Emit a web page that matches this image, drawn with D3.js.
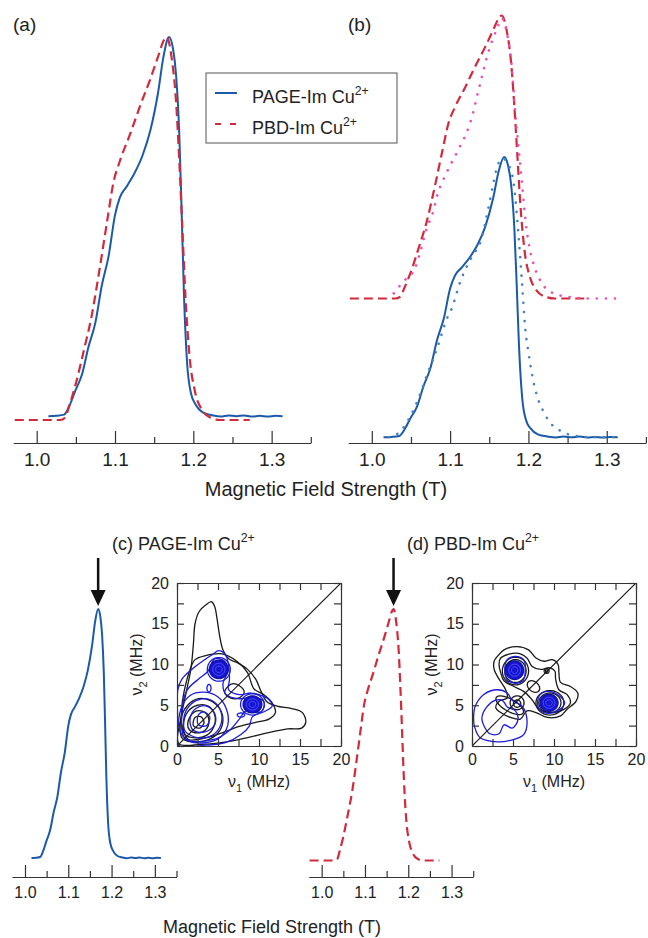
<!DOCTYPE html>
<html>
<head>
<meta charset="utf-8">
<script src="https://cdn.jsdelivr.net/npm/d3@7"></script>
<style>
  body { margin: 0; background: #fff; }
  svg { display: block; }
  text { font-family: "Liberation Sans", Arial, Helvetica, sans-serif; fill: #222; }
</style>
</head>
<body>
<svg id="fig" width="648" height="938"></svg>
<script>
// ---- field-swept echo spectra (normalised intensity) ----
const pageField = [1.015,1.025,1.035,1.042,1.049,1.058,1.066,1.075,1.083,1.092,1.100,1.106,1.115,1.125,1.135,1.145,1.155,1.162,1.169,1.174,1.178,1.182,1.185,1.188,1.192,1.197,1.203,1.212,1.225,1.235,1.245,1.255,1.265,1.275,1.285,1.295,1.305,1.314];
const pageIm = [0.010,0.011,0.014,0.038,0.075,0.12,0.19,0.255,0.35,0.43,0.535,0.58,0.61,0.645,0.69,0.755,0.855,0.95,1.0,0.97,0.90,0.75,0.55,0.33,0.15,0.07,0.04,0.02,0.012,0.009,0.012,0.010,0.012,0.009,0.011,0.009,0.011,0.010];

const pbdField = [0.972,1.000,1.030,1.036,1.042,1.050,1.060,1.070,1.080,1.090,1.098,1.106,1.119,1.132,1.145,1.156,1.162,1.166,1.172,1.178,1.182,1.186,1.190,1.195,1.202,1.210,1.222,1.234,1.272];
const pbdIm = [0,0,0,0.006,0.04,0.095,0.18,0.27,0.39,0.52,0.62,0.675,0.745,0.82,0.89,0.955,0.99,1.0,0.95,0.83,0.68,0.50,0.32,0.17,0.075,0.03,0.006,0,0];

// simulations shown dotted in (b)
const pageFitField = [1.022,1.028,1.038,1.049,1.060,1.070,1.083,1.096,1.102,1.113,1.128,1.139,1.149,1.156,1.160,1.167,1.174,1.181,1.188,1.192,1.196,1.200,1.205,1.211,1.218,1.230,1.243,1.258,1.283,1.314];
const pageFit = [0.01,0.014,0.036,0.083,0.15,0.226,0.321,0.429,0.464,0.56,0.649,0.702,0.821,0.917,0.964,0.995,0.975,0.910,0.702,0.548,0.393,0.31,0.226,0.155,0.107,0.054,0.030,0.015,0.01,0.01];
const pbdFitField = [1.028,1.040,1.055,1.062,1.070,1.077,1.085,1.094,1.100,1.109,1.126,1.139,1.149,1.160,1.166,1.173,1.179,1.183,1.188,1.192,1.196,1.200,1.207,1.216,1.228,1.250,1.280,1.312];
const pbdFit = [0.018,0.059,0.106,0.165,0.247,0.295,0.377,0.436,0.47,0.518,0.624,0.766,0.872,0.954,0.99,0.931,0.813,0.66,0.518,0.401,0.283,0.2,0.118,0.059,0.024,0.006,0,0];
const pbdOffset = 0.5;

const fieldTicks = [1.0, 1.1, 1.2, 1.3];
const fieldMinor = [1.05, 1.15, 1.25, 1.35];
const nuTicks = [0, 2.5, 5, 7.5, 10, 12.5, 15, 17.5, 20];

// ---- HYSCORE contours, (nu1, nu2) in MHz ----
const pageBlackLoops = [
  [[0.2,0.3],[3,0.2],[6,0.5],[8.5,1.0],[11,1.6],[13.5,2.1],[15.2,2.2],[15.7,2.9],[15.3,4.1],[14,4.6],[12.2,4.9],[11,5.4],[10.3,6.6],[9.6,8.2],[8.6,9.4],[7.4,10.2],[6.3,10.7],[5.6,11.8],[5.2,13.5],[4.9,15.5],[4.6,17.1],[4.2,17.7],[3.5,17.3],[2.7,16.5],[2.2,15.0],[2.0,12.5],[1.7,9.5],[1.1,6.5],[0.5,3.5]],
  [[2.2,10.6],[3.5,11.1],[5.5,11.3],[7.3,10.4],[8.6,9.0],[9.4,7.0],[10.6,6.3],[11.6,5.3],[12.0,4.1],[11.2,3.3],[9.6,2.9],[7.6,2.4],[5.5,1.6],[3.5,1.0],[1.4,0.8],[0.6,2.4],[0.6,4.9],[1.0,7.3],[1.6,9.4]],
  [[5.8,6.6],[6.6,7.6],[7.6,7.4],[8.2,6.6],[7.6,5.9],[6.5,5.9]],
  [[0.6,1.0],[1.8,0.5],[3.6,0.7],[5.0,1.6],[5.6,3.0],[5.2,4.6],[4.0,5.6],[2.6,5.8],[1.3,5.0],[0.5,3.4]],
  [[1.0,1.4],[2.2,1.0],[3.6,1.3],[4.5,2.4],[4.6,3.8],[3.8,4.9],[2.5,5.0],[1.4,4.3],[0.8,2.8]],
  [[1.5,2.0],[2.5,1.6],[3.5,2.0],[3.9,3.1],[3.4,4.1],[2.4,4.3],[1.6,3.6],[1.3,2.7]],
  [[2.0,2.5],[2.8,2.2],[3.3,2.9],[2.9,3.6],[2.2,3.5]]
];
const pageBlueLoops = [
  [[0.2,0.1],[3.5,0.1],[5.9,0.4],[7.8,1.4],[8.8,2.4],[9.2,3.6],[10.8,4.3],[11.6,4.9],[11.2,5.7],[10.0,6.3],[9.0,6.5],[7.6,6.3],[6.3,6.9],[6.4,8.2],[6.3,9.8],[5.9,11.2],[5.1,11.7],[4.3,11.2],[3.1,10.4],[1.8,9.4],[0.6,8.2],[0.1,6.9],[0.1,3.0]],
  [[1.0,0.9],[4.5,0.8],[6.5,2.0],[7.6,3.3],[8.4,4.3],[10.3,4.2],[10.6,5.4],[9.3,6.0],[7.6,5.8],[6.0,6.3],[5.6,7.6],[6.1,9.0],[5.8,10.4],[4.6,10.7],[3.8,9.2],[2.6,8.2],[1.2,6.8],[0.6,4.0]],
  [[0.3,2.0],[1.5,0.6],[3.5,0.4],[5.2,1.0],[6.2,2.6],[6.0,4.6],[5.0,6.0],[3.4,6.6],[1.6,6.2],[0.5,4.6]],
  [[1.0,1.8],[2.6,1.0],[4.3,1.3],[5.4,2.8],[5.2,4.6],[4.0,5.7],[2.4,5.6],[1.2,4.5],[0.8,3.0]],
  [[1.9,2.0],[3.3,1.7],[4.6,2.6],[4.6,4.0],[3.6,4.9],[2.3,4.6],[1.6,3.4]],
  [[2.6,2.6],[3.6,2.5],[4.0,3.5],[3.3,4.2],[2.6,3.8]]
];
// [cx, cy, rx, ry, rotation deg]
const pageBlueRings = [
  [3.9,7.1,0.25,0.45,0],[7.8,3.8,0.45,0.25,0],
  [5.1,9.4,1.4,1.45,0],[9.2,5.1,1.45,1.3,0]
];
const pagePeaks = [[5.1,9.4,1.15,1.15,0],[9.2,5.1,1.15,1.05,0]];

const pbdBlackLoops = [
  [[3.1,11.0],[3.9,11.8],[5.5,12.2],[6.9,11.8],[7.8,10.8],[8.8,10.4],[9.8,10.6],[10.5,10.0],[10.6,9.0],[10.8,7.8],[12.0,7.3],[12.9,6.5],[12.7,5.5],[11.6,4.5],[10.8,3.7],[9.2,3.5],[7.8,4.1],[6.7,4.3],[5.9,3.3],[4.7,3.5],[3.5,4.1],[2.9,4.7],[3.3,5.5],[4.3,5.9],[4.1,6.9],[3.3,8.2],[2.7,9.4],[2.7,10.4]],
  [[3.5,10.8],[5.5,11.4],[6.7,10.8],[7.3,9.8],[8.4,9.4],[9.4,9.6],[10.1,9.2],[10.2,8.2],[10.6,6.9],[11.6,6.3],[12.0,5.3],[11.2,4.5],[9.6,4.1],[8.2,4.5],[7.3,5.7],[6.3,6.7],[5.1,7.3],[3.9,8.0],[3.5,9.0],[3.3,10.0]]
];
const pbdBlackRings = [
  [5.3,9.2,1.6,1.7,0],[5.3,9.2,1.3,1.4,0],
  [9.5,5.3,1.7,1.5,0],[9.5,5.3,1.35,1.2,0],
  [7.5,7.3,0.85,0.6,-40],
  [5.5,5.3,0.85,0.85,0],[5.5,5.2,0.45,0.45,0],
  [4.6,5.0,1.9,0.75,-30],
  [9.1,9.2,0.3,0.3,0],[9.1,9.2,0.15,0.15,0]
];
const pbdBlueLoops = [
  [[0.4,4.9],[1.4,6.3],[3.1,6.9],[4.3,6.5],[4.9,5.6],[6.1,4.9],[6.7,3.3],[6.3,1.4],[4.7,0.7],[3.1,0.5],[1.0,1.0],[0.3,2.4],[0.2,3.7]],
  [[1.2,3.4],[1.8,4.8],[2.8,5.6],[3.7,5.6],[4.3,4.8],[5.3,4.3],[5.6,3.2],[4.9,2.2],[3.9,2.6],[3.3,1.5],[2.2,1.5],[1.5,2.4]],
  [[4.0,9.3],[4.3,10.6],[5.2,11.0],[6.3,10.6],[6.5,9.3],[6.2,8.0],[5.2,7.7],[4.3,8.1]],
  [[8.0,5.3],[8.4,6.4],[9.5,6.7],[10.6,6.2],[11.3,5.3],[10.6,4.4],[9.4,4.0],[8.3,4.4]]
];
const pbdBlueRings = [];
const pbdPeaks = [[5.2,9.3,1.1,1.15,0],[9.4,5.3,1.1,1.05,0]];

const blue = '#1b5aa8';
const red = '#d02a3c';
const pink = '#ee4fb0';
const blueFit = '#4a82bc';
const contourBlue = '#1c1cdc';
const ink = '#222';

const svg = d3.select('#fig');

// ---------- helpers ----------
function fieldAxis(g, x, y0, major, minor, size, pad) {
  const ax = g.append('g').attr('transform', `translate(0,${y0})`)
    .call(d3.axisBottom(x).tickValues(fieldTicks).tickFormat(d3.format('.1f'))
      .tickSize(-major).tickSizeOuter(0).tickPadding(pad));
  ax.append('g')
    .call(d3.axisBottom(x).tickValues(fieldMinor).tickFormat('').tickSize(-minor).tickSizeOuter(0))
    .select('.domain').remove();
  ax.selectAll('path, line').attr('stroke', '#333').attr('stroke-width', 1.2);
  ax.selectAll('text').attr('font-size', size).attr('font-family', null).attr('fill', ink);
}

function trace(g, field, vals, x, y, offset, style) {
  const pts = field.map((f, i) => [f, vals[i] + offset]);
  const line = d3.line().x(d => x(d[0])).y(d => y(d[1])).curve(d3.curveMonotoneX);
  g.append('path').datum(pts).attr('d', line).attr('fill', 'none')
    .attr('stroke', style.color).attr('stroke-width', style.width)
    .attr('stroke-dasharray', style.dash || null)
    .attr('stroke-linecap', style.cap || 'butt')
    .attr('stroke-linejoin', 'round');
}

function textSup(g, x, y, main, sup, size, anchor) {
  const t = g.append('text').attr('x', x).attr('y', y).attr('font-size', size)
    .attr('text-anchor', anchor || 'start');
  t.append('tspan').text(main);
  t.append('tspan').attr('dy', -size * 0.42).attr('font-size', size * 0.68).text(sup);
  return t;
}

function ellipsePts(e) {
  const [cx, cy, rx, ry, rot] = e;
  const a = rot * Math.PI / 180;
  return d3.range(0, 48).map(k => {
    const t = k / 48 * 2 * Math.PI;
    const u = rx * Math.cos(t), v = ry * Math.sin(t);
    return [cx + u * Math.cos(a) - v * Math.sin(a), cy + u * Math.sin(a) + v * Math.cos(a)];
  });
}

function hyscore(id, left, blackLoops, blackRings, blueLoops, blueRings, peaks) {
  const sx = d3.scaleLinear().domain([0, 20]).range([left, left + 164]);
  const sy = d3.scaleLinear().domain([0, 20]).range([746, 583]);
  const g = svg.append('g');
  g.append('clipPath').attr('id', id).append('rect')
    .attr('x', sx(0)).attr('y', sy(20)).attr('width', sx(20) - sx(0)).attr('height', sy(0) - sy(20));
  const body = g.append('g').attr('clip-path', `url(#${id})`);
  const smooth = d3.line().x(d => sx(d[0])).y(d => sy(d[1])).curve(d3.curveCatmullRomClosed.alpha(0.5));
  const ring = d3.line().x(d => sx(d[0])).y(d => sy(d[1])).curve(d3.curveLinearClosed);

  const draw = (loops, rings, color, w) => {
    body.selectAll(null).data(loops).enter().append('path')
      .attr('d', smooth).attr('fill', 'none').attr('stroke', color).attr('stroke-width', w);
    body.selectAll(null).data(rings.map(ellipsePts)).enter().append('path')
      .attr('d', ring).attr('fill', 'none').attr('stroke', color).attr('stroke-width', w);
  };
  draw(blackLoops, blackRings, '#1a1a1a', 1.3);
  draw(blueLoops, blueRings, contourBlue, 1.3);

  // dense blue maxima: filled discs with a few lighter inner contours
  body.selectAll(null).data(peaks.map(ellipsePts)).enter().append('path')
    .attr('d', ring).attr('fill', '#1414d2').attr('stroke', '#10109a').attr('stroke-width', 1.2);
  body.selectAll(null)
    .data(peaks.flatMap(p => [0.65, 0.35].map(k => ellipsePts([p[0], p[1], p[2] * k, p[3] * k, 0]))))
    .enter().append('path')
    .attr('d', ring).attr('fill', 'none').attr('stroke', '#5a5af6').attr('stroke-width', 0.9);

  body.append('line').attr('x1', sx(0)).attr('y1', sy(0)).attr('x2', sx(20)).attr('y2', sy(20))
    .attr('stroke', '#1a1a1a').attr('stroke-width', 1.2);

  const fmt = d => (d % 5 === 0 ? d : '');
  const axes = [
    [d3.axisBottom(sx).tickFormat(fmt), `translate(0,${sy(0)})`],
    [d3.axisTop(sx).tickFormat(''), `translate(0,${sy(20)})`],
    [d3.axisLeft(sy).tickFormat(fmt), `translate(${sx(0)},0)`],
    [d3.axisRight(sy).tickFormat(''), `translate(${sx(20)},0)`]
  ];
  axes.forEach(([ax, tr]) => {
    const a = g.append('g').attr('transform', tr)
      .call(ax.tickValues(nuTicks).tickSize(-7).tickSizeOuter(0).tickPadding(8));
    a.selectAll('path, line').attr('stroke', '#333').attr('stroke-width', 1.2);
    a.selectAll('text').attr('font-size', 16).attr('font-family', null).attr('fill', ink);
  });

  // axis titles
  const xt = g.append('text').attr('x', (sx(0) + sx(20)) / 2).attr('y', 787)
    .attr('font-size', 16).attr('text-anchor', 'middle');
  xt.append('tspan').text('\u03bd');
  xt.append('tspan').attr('dy', 5).attr('font-size', 11).text('1');
  xt.append('tspan').attr('dy', -5).text(' (MHz)');
  const yt = g.append('text').attr('transform', `translate(${sx(0) - 35},${(sy(0) + sy(20)) / 2}) rotate(-90)`)
    .attr('font-size', 16).attr('text-anchor', 'middle');
  yt.append('tspan').text('\u03bd');
  yt.append('tspan').attr('dy', 5).attr('font-size', 11).text('2');
  yt.append('tspan').attr('dy', -5).text(' (MHz)');
}

// ---------- (a) ----------
const xA = d3.scaleLinear().domain([0.97, 1.35]).range([13.2, 310.8]);
const yA = d3.scaleLinear().domain([0, 1]).range([420, 37]);
const gA = svg.append('g');
fieldAxis(gA, xA, 443, 12, 6, 19, 9.5);
trace(gA, pageField, pageIm, xA, yA, 0, { color: blue, width: 2 });
trace(gA, pbdField, pbdIm, xA, yA, 0, { color: red, width: 2.2, dash: '9,5' });
gA.append('text').attr('x', 13).attr('y', 31).attr('font-size', 19).text('(a)');

// legend
const leg = svg.append('g').attr('transform', 'translate(206,73)');
leg.append('rect').attr('width', 191).attr('height', 70).attr('fill', '#fff')
  .attr('stroke', '#555').attr('stroke-width', 1);
leg.append('line').attr('x1', 9).attr('x2', 31).attr('y1', 20).attr('y2', 20)
  .attr('stroke', blue).attr('stroke-width', 2);
leg.append('line').attr('x1', 9).attr('x2', 31).attr('y1', 51).attr('y2', 51)
  .attr('stroke', red).attr('stroke-width', 2.2).attr('stroke-dasharray', '6,9');
textSup(leg, 46, 30, 'PAGE-Im Cu', '2+', 18);
textSup(leg, 46, 61, 'PBD-Im Cu', '2+', 18);

// ---------- (b) ----------
const xB = d3.scaleLinear().domain([0.97, 1.35]).range([348.3, 645.9]);
const yB = d3.scaleLinear().domain([0, 1]).range([440, 157]);
const gB = svg.append('g');
fieldAxis(gB, xB, 443, 12, 6, 19, 9.5);
trace(gB, pbdField, pbdIm, xB, yB, pbdOffset, { color: red, width: 2.2, dash: '9,5' });
trace(gB, pbdFitField, pbdFit, xB, yB, pbdOffset, { color: pink, width: 2.6, dash: '0.1,9', cap: 'round' });
trace(gB, pageField, pageIm, xB, yB, 0, { color: blue, width: 2 });
trace(gB, pageFitField, pageFit, xB, yB, 0, { color: blueFit, width: 2.6, dash: '0.1,9', cap: 'round' });
gB.append('text').attr('x', 348).attr('y', 31).attr('font-size', 19).text('(b)');

svg.append('text').attr('x', 326).attr('y', 496).attr('font-size', 20)
  .attr('text-anchor', 'middle').text('Magnetic Field Strength (T)');

// ---------- (c) / (d) spectra with arrows ----------
const yCD = d3.scaleLinear().domain([0, 1]).range([860.5, 609]);
const xC = d3.scaleLinear().domain([0.97, 1.35]).range([12, 176.5]);
const xD = d3.scaleLinear().domain([0.97, 1.35]).range([308.7, 473.2]);

function arrowAt(g, x) {
  g.append('line').attr('x1', x).attr('x2', x).attr('y1', 558).attr('y2', 592)
    .attr('stroke', '#111').attr('stroke-width', 2.5);
  g.append('path').attr('d', `M${x - 7.5},590 L${x + 7.5},590 L${x},606 Z`).attr('fill', '#111');
}

const gC = svg.append('g');
fieldAxis(gC, xC, 877, 12, 6, 16, 9.5);
trace(gC, pageField, pageIm, xC, yCD, 0, { color: blue, width: 2 });
arrowAt(gC, xC(pageField[d3.maxIndex(pageIm)]));
textSup(gC, 112, 550, '(c) PAGE-Im Cu', '2+', 18);

const gD = svg.append('g');
fieldAxis(gD, xD, 877, 12, 6, 16, 9.5);
trace(gD, pbdField, pbdIm, xD, yCD, 0, { color: red, width: 2.2, dash: '9,5' });
arrowAt(gD, xD(pbdField[d3.maxIndex(pbdIm)]));
textSup(gD, 407, 550, '(d) PBD-Im Cu', '2+', 18);

svg.append('text').attr('x', 272).attr('y', 933).attr('font-size', 18)
  .attr('text-anchor', 'middle').text('Magnetic Field Strength (T)');

// ---------- HYSCORE panels ----------
hyscore('clipC', 177, pageBlackLoops, [], pageBlueLoops, pageBlueRings, pagePeaks);
hyscore('clipD', 472, pbdBlackLoops, pbdBlackRings, pbdBlueLoops, pbdBlueRings, pbdPeaks);
</script>
</body>
</html>
